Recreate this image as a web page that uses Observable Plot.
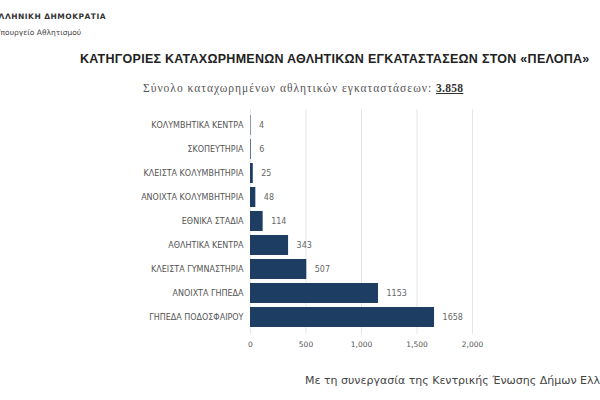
<!DOCTYPE html>
<html>
<head>
<meta charset="utf-8">
<script src="https://cdn.jsdelivr.net/npm/d3@7"></script>
<script src="https://cdn.jsdelivr.net/npm/@observablehq/plot@0.6"></script>
<style>
  html, body { margin: 0; padding: 0; background: #fff; width: 600px; height: 400px; overflow: hidden; }
  #wrap { position: relative; width: 600px; height: 400px; overflow: hidden; }
  .txt { position: absolute; white-space: nowrap; }
  #hdr1 { left: -7px; top: 12px; font: bold 7.5px "DejaVu Sans", sans-serif; color: #333; letter-spacing: 0.5px; }
  #hdr2 { left: -4px; top: 28px; font: 7.5px "DejaVu Sans", sans-serif; color: #444; }
  #title { left: 80px; top: 52px; font: bold 12.5px "Liberation Sans", Arial, sans-serif; color: #222; letter-spacing: 0.27px; }
  #subtitle { left: 143px; top: 82px; font: 11.5px "Liberation Serif", serif; color: #555; letter-spacing: 1px; }
  #subtitle b { color: #333; text-decoration: underline; letter-spacing: 0.3px; }
  #caption { left: 305px; top: 374px; font: 11px "DejaVu Sans", sans-serif; color: #444; }
  #chart { position: absolute; left: 0; top: 0; }
</style>
</head>
<body>
<div id="wrap">
  <div id="chart"></div>
  <div class="txt" id="hdr1">ΕΛΛΗΝΙΚΗ ΔΗΜΟΚΡΑΤΙΑ</div>
  <div class="txt" id="hdr2">Υπουργείο Αθλητισμού</div>
  <div class="txt" id="title">ΚΑΤΗΓΟΡΙΕΣ ΚΑΤΑΧΩΡΗΜΕΝΩΝ ΑΘΛΗΤΙΚΩΝ ΕΓΚΑΤΑΣΤΑΣΕΩΝ ΣΤΟΝ «ΠΕΛΟΠΑ»</div>
  <div class="txt" id="subtitle">Σύνολο καταχωρημένων αθλητικών εγκαταστάσεων: <b>3.858</b></div>
  <div class="txt" id="caption">Με τη συνεργασία της Κεντρικής Ένωσης Δήμων Ελλάδας</div>
</div>
<script>
const categories = [
  "ΚΟΛΥΜΒΗΤΙΚΑ ΚΕΝΤΡΑ",
  "ΣΚΟΠΕΥΤΗΡΙΑ",
  "ΚΛΕΙΣΤΑ ΚΟΛΥΜΒΗΤΗΡΙΑ",
  "ΑΝΟΙΧΤΑ ΚΟΛΥΜΒΗΤΗΡΙΑ",
  "ΕΘΝΙΚΑ ΣΤΑΔΙΑ",
  "ΑΘΛΗΤΙΚΑ ΚΕΝΤΡΑ",
  "ΚΛΕΙΣΤΑ ΓΥΜΝΑΣΤΗΡΙΑ",
  "ΑΝΟΙΧΤΑ ΓΗΠΕΔΑ",
  "ΓΗΠΕΔΑ ΠΟΔΟΣΦΑΙΡΟΥ"
];
const values = [4, 6, 25, 48, 114, 343, 507, 1153, 1658];
const xTicks = [0, 500, 1000, 1500, 2000];

const data = categories.map((c, i) => ({category: c, value: values[i]}));
const fmt = d3.format(",");

const chart = Plot.plot({
  width: 600,
  height: 400,
  marginTop: 109,
  marginBottom: 66,
  marginLeft: 250,
  marginRight: 128,
  style: {fontFamily: "DejaVu Sans, sans-serif", fontSize: "7.5px", color: "#555", background: "transparent"},
  x: {domain: [0, 2000], ticks: xTicks, tickFormat: fmt, label: null, tickSize: 0, tickPadding: 7},
  y: {domain: categories, label: null, padding: 0.16, tickSize: 0, tickPadding: 7},
  marks: [
    Plot.gridX(xTicks, {stroke: "#e6e6e6", strokeOpacity: 1}),
    Plot.barX(data, {x: "value", y: "category", fill: "#1d3d63"}),
    Plot.text(data, {x: "value", y: "category", text: d => String(d.value), textAnchor: "start", dx: 8, fill: "#666", fontSize: 8})
  ]
});
chart.querySelectorAll("[aria-label='y-axis tick label'] text").forEach(t => t.setAttribute("font-size", "8"));
document.getElementById("chart").appendChild(chart);
</script>
</body>
</html>
